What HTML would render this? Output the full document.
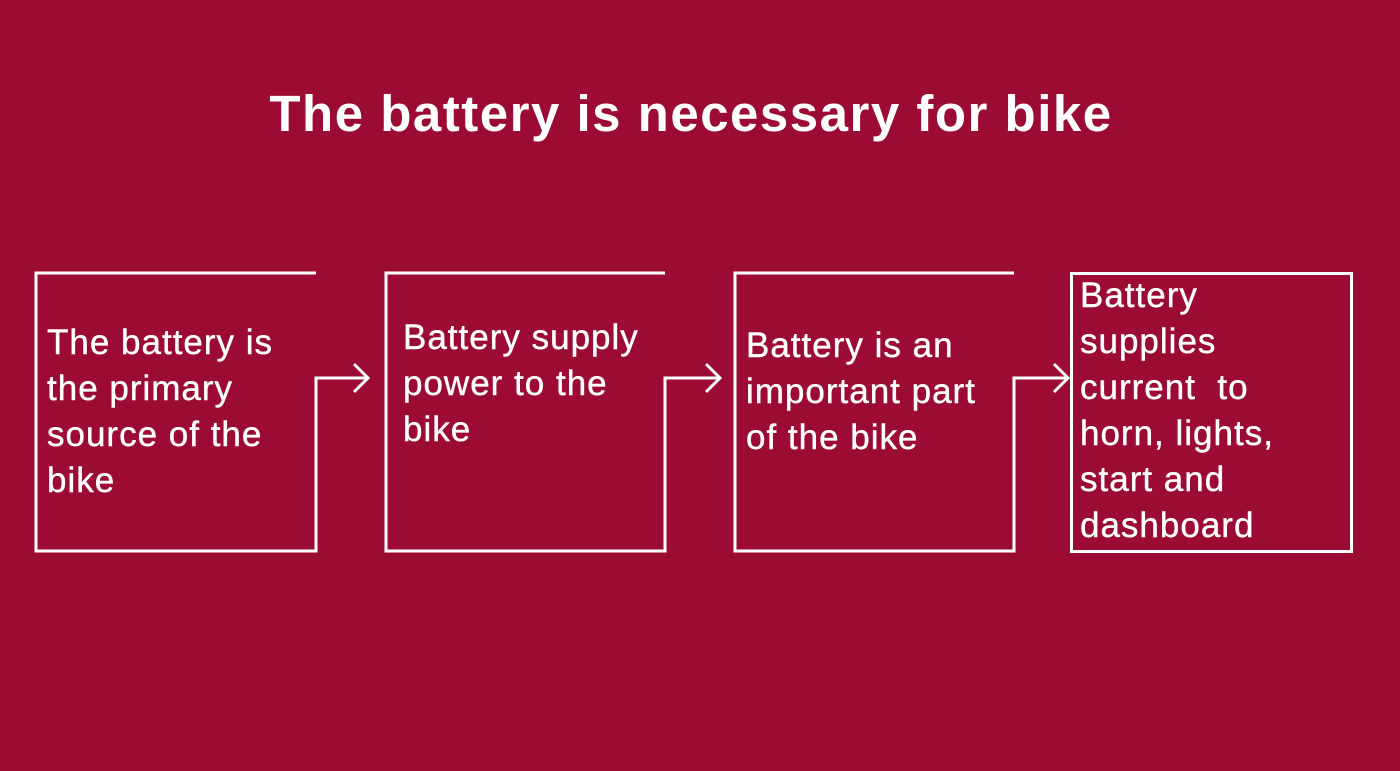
<!DOCTYPE html>
<html><head><style>
html,body{margin:0;padding:0}
body{width:1400px;height:771px;background:#9b0b34;position:relative;overflow:hidden;font-family:"Liberation Sans",sans-serif;color:#fff}
.t{position:absolute;left:0;width:1382px;text-align:center;top:84px;font-size:51px;font-weight:bold;line-height:60px;letter-spacing:1.5px}
.x{position:absolute;font-size:35px;line-height:46px;letter-spacing:1px;white-space:nowrap;-webkit-text-stroke:0.4px #fff}
</style></head><body>
<div class="t">The battery is necessary for bike</div>
<svg width="1400" height="771" style="position:absolute;left:0;top:0" fill="none" stroke="#fff" stroke-width="3">
<path d="M316 273H36V551H316V378H368M354 364L368 378L354 392"/>
<path d="M665 273H386V551H665V378H720M706 364L720 378L706 392"/>
<path d="M1014 273H735V551H1014V378H1068M1054 364L1068 378L1054 392"/>
<rect x="1071.5" y="273.5" width="280" height="278"/>
</svg>
<div class="x" style="left:47px;top:320px">The battery is<br>the primary<br>source of the<br>bike</div>
<div class="x" style="left:403px;top:315px">Battery supply<br>power to the<br>bike</div>
<div class="x" style="left:746px;top:323px">Battery is an<br>important part<br>of the bike</div>
<div class="x" style="left:1080px;top:273px">Battery<br>supplies<br>current&nbsp; to<br>horn, lights,<br>start and<br>dashboard</div>
</body></html>
